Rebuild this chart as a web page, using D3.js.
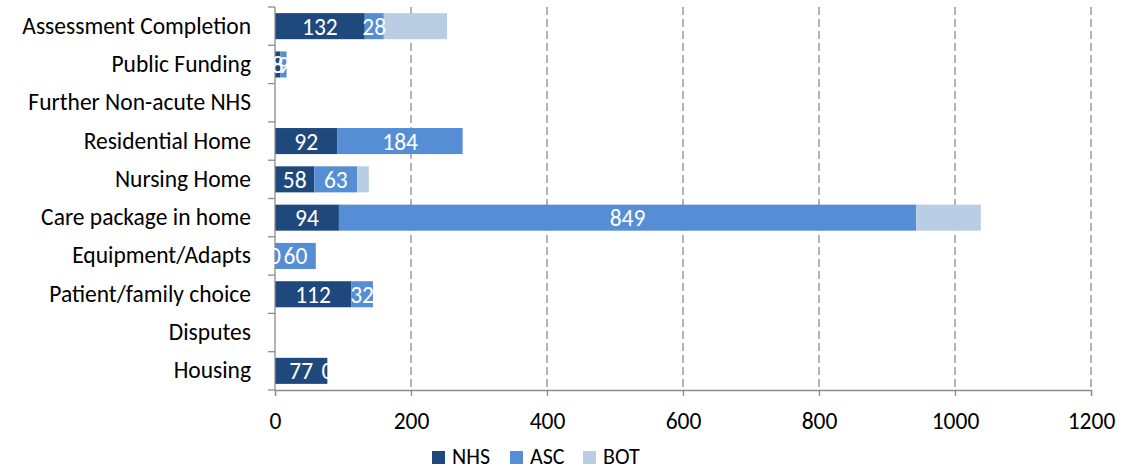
<!DOCTYPE html>
<html>
<head>
<meta charset="utf-8">
<script src="https://cdn.jsdelivr.net/npm/d3@7"></script>
<style>
  body { margin: 0; background: #fff; }
  text { font-family: Carlito, Calibri, Lato, sans-serif; }
</style>
</head>
<body>
<div id="chart"></div>
<script>
// categories, top to bottom
const categories = ["Assessment Completion", "Public Funding", "Further Non-acute NHS",
  "Residential Home", "Nursing Home", "Care package in home", "Equipment/Adapts",
  "Patient/family choice", "Disputes", "Housing"];
const nhsValues = [132, 8, null, 92, 58, 94, 0, 112, null, 77];
const ascValues = [28, 9, null, 184, 63, 849, 60, 32, null, 0];
const botValues = [93, 0, null, 0, 17, 95, 0, 0, null, 0];
const seriesNames = ["NHS", "ASC", "BOT"];
const seriesColors = ["#1f497d", "#558ed5", "#b9cde5"];
const xTicks = [0, 200, 400, 600, 800, 1000, 1200];

const W = 1134, H = 470;
const margin = {top: 7, right: 43, bottom: 80, left: 275},
    width = W - margin.left - margin.right,
    height = H - margin.top - margin.bottom;
const fontSize = "23.5px";

const svg = d3.select("#chart").append("svg")
    .attr("width", W).attr("height", H)
  .append("g")
    .attr("transform", `translate(${margin.left},${margin.top})`);

const table = categories.map((c, i) => ({cat: c, NHS: nhsValues[i], ASC: ascValues[i], BOT: botValues[i]}));

const x = d3.scaleLinear().domain([0, 1200]).range([0, width]);
const y = d3.scaleBand().domain(categories).range([0, height])
    .paddingInner(0.32).paddingOuter(0.16);
const color = d3.scaleOrdinal().domain(seriesNames).range(seriesColors);

// gridlines
svg.append("g").selectAll("line")
  .data(xTicks.filter(d => d > 0))
  .join("line")
    .attr("x1", d => x(d)).attr("x2", d => x(d))
    .attr("y1", 0).attr("y2", height)
    .attr("stroke", "#8c8c8c").attr("stroke-width", 1.3)
    .attr("stroke-dasharray", "8,4");

// stacked bars
const stacked = d3.stack().keys(seriesNames).value((d, k) => d[k] ?? 0)(table);
const layers = svg.append("g").selectAll("g")
  .data(stacked)
  .join("g")
    .attr("fill", d => color(d.key));
layers.selectAll("rect")
  .data(d => d)
  .join("rect")
    .attr("x", d => x(d[0]))
    .attr("y", d => y(d.data.cat))
    .attr("width", d => x(d[1]) - x(d[0]))
    .attr("height", y.bandwidth());

// x axis
const xAxis = svg.append("g")
    .attr("transform", `translate(0,${height})`)
    .call(d3.axisBottom(x).tickValues(xTicks).tickSize(6).tickPadding(16).tickFormat(d3.format("d")));
xAxis.select(".domain").attr("stroke", "#8c8c8c").attr("stroke-width", 1.3);
xAxis.selectAll(".tick line").attr("stroke", "#8c8c8c").attr("stroke-width", 1.3);
xAxis.selectAll("text").attr("font-size", fontSize).attr("fill", "#000")
    .style("font-family", "Carlito, Calibri, Lato, sans-serif");

// y axis
const yAxis = svg.append("g")
    .call(d3.axisLeft(y).tickSize(0).tickPadding(24));
yAxis.select(".domain").remove();
yAxis.selectAll("text").attr("font-size", fontSize).attr("fill", "#000")
    .style("font-family", "Carlito, Calibri, Lato, sans-serif");
svg.append("line")
    .attr("x1", 0).attr("x2", 0).attr("y1", 0).attr("y2", height)
    .attr("stroke", "#8c8c8c").attr("stroke-width", 1.3);
const step = y.step();
svg.append("g").selectAll("line")
  .data(d3.range(categories.length + 1))
  .join("line")
    .attr("x1", -7).attr("x2", 0)
    .attr("y1", i => i * step).attr("y2", i => i * step)
    .attr("stroke", "#8c8c8c").attr("stroke-width", 1.3);

// data labels (NHS and ASC only)
stacked.filter(s => s.key !== "BOT").forEach(s => {
  svg.append("g").selectAll("text")
    .data(s.filter(d => d.data[s.key] !== null))
    .join("text")
      .attr("x", d => x((d[0] + d[1]) / 2))
      .attr("y", d => y(d.data.cat) + y.bandwidth() / 2)
      .attr("dy", "0.36em")
      .attr("text-anchor", "middle")
      .attr("fill", "#fff")
      .attr("font-size", fontSize)
      .text(d => d.data[s.key]);
});

// legend
const legend = d3.select("svg").append("g")
    .attr("transform", "translate(432,451)");
const offsets = [0, 78, 151];
seriesNames.forEach((n, i) => {
  const g = legend.append("g").attr("transform", `translate(${offsets[i]},0)`);
  g.append("rect").attr("width", 13).attr("height", 13).attr("fill", color(n));
  g.append("text").attr("x", 20).attr("y", 13).attr("font-size", "22px")
    .attr("fill", "#000").text(n);
});
</script>
</body>
</html>
